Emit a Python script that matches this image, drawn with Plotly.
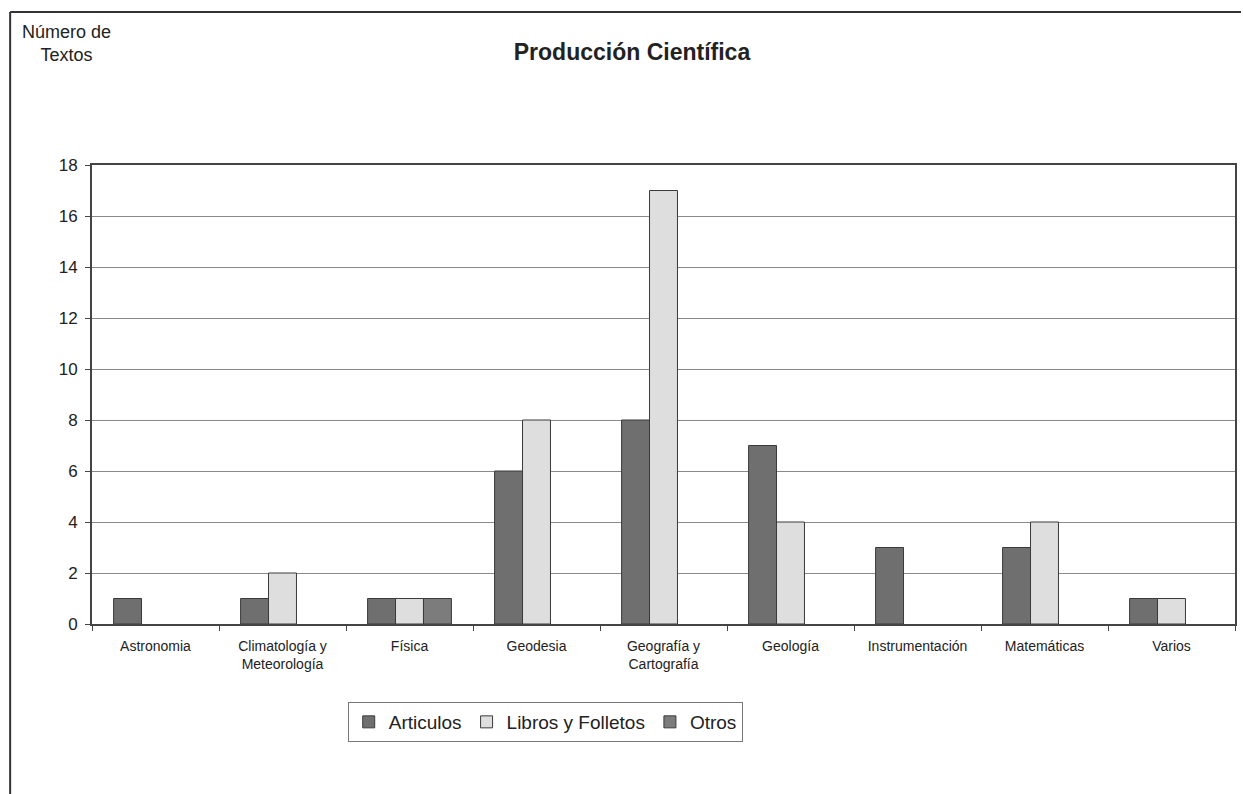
import plotly.graph_objects as go

categorias = ["Astronomia", "Climatología y<br>Meteorología", "Física", "Geodesia",
              "Geografía y<br>Cartografía", "Geología", "Instrumentación",
              "Matemáticas", "Varios"]
articulos = [1, 1, 1, 6, 8, 7, 3, 3, 1]
libros = [0, 2, 1, 8, 17, 4, 0, 4, 1]
otros = [0, 0, 1, 0, 0, 0, 0, 0, 0]
y_ticks = [0, 2, 4, 6, 8, 10, 12, 14, 16, 18]

W, H = 1243, 794
L, R, T, B = 92, 6, 165, 170
pw, ph = W - L - R, H - T - B
FONT = "Liberation Sans, Arial, sans-serif"


def px_x(p):
    return (p - L) / pw


def px_y(p):
    return (H - B - p) / ph


def sin_ceros(values):
    # empty counts are left out so no outline stub is drawn on the axis
    return [v if v else None for v in values]


series = [("Articulos", articulos, "#6f6f6f"),
          ("Libros y Folletos", libros, "#dedede"),
          ("Otros", otros, "#7c7c7c")]

fig = go.Figure()
for nombre, valores, color in series:
    fig.add_trace(go.Bar(name=nombre, x=categorias, y=sin_ceros(valores),
                         marker=dict(color=color, line=dict(color="#3a3a3a", width=1))))

fig.update_layout(
    width=W, height=H,
    margin=dict(l=L, r=R, t=T, b=B),
    paper_bgcolor="white", plot_bgcolor="white",
    barmode="group", bargap=0.34, bargroupgap=0,
    font=dict(family=FONT, color="#222"),
    title=dict(text="<b>Producción Científica</b>", xref="container", x=632 / W,
               xanchor="center", y=1 - 52 / H, yanchor="middle",
               font=dict(size=23, color="#222")),
    showlegend=True,
    legend=dict(orientation="h", x=px_x(546), xanchor="center", y=px_y(722), yanchor="middle",
                bordercolor="#777", borderwidth=1, bgcolor="white",
                font=dict(size=19, color="#222"), itemwidth=30),
    xaxis=dict(showline=True, linecolor="#444", linewidth=2, mirror=True,
               ticks="outside", tickson="boundaries", ticklen=5, tickcolor="#444",
               ticklabelstandoff=8,
               tickfont=dict(size=14, color="#222"), showgrid=False),
    yaxis=dict(range=[0, 18], tickvals=y_ticks, showline=True, linecolor="#444", linewidth=2,
               mirror=True, ticks="outside", ticklen=5, tickcolor="#444",
               ticklabelstandoff=4,
               showgrid=True, gridcolor="#8a8a8a", gridwidth=1,
               tickfont=dict(size=17, color="#222"), zeroline=False),
)

fig.add_annotation(text="Número de<br>Textos", xref="paper", yref="paper",
                   x=px_x(66), y=px_y(44), xanchor="center", yanchor="middle",
                   showarrow=False, align="center", font=dict(size=18, color="#222"))

# outer frame: top and left edges
fig.add_shape(type="line", xref="paper", yref="paper", x0=px_x(10), x1=px_x(1243),
              y0=px_y(12), y1=px_y(12), line=dict(color="#333", width=2))
fig.add_shape(type="line", xref="paper", yref="paper", x0=px_x(10), x1=px_x(10),
              y0=px_y(12), y1=px_y(794), line=dict(color="#333", width=2))

fig.write_html("out.html")
